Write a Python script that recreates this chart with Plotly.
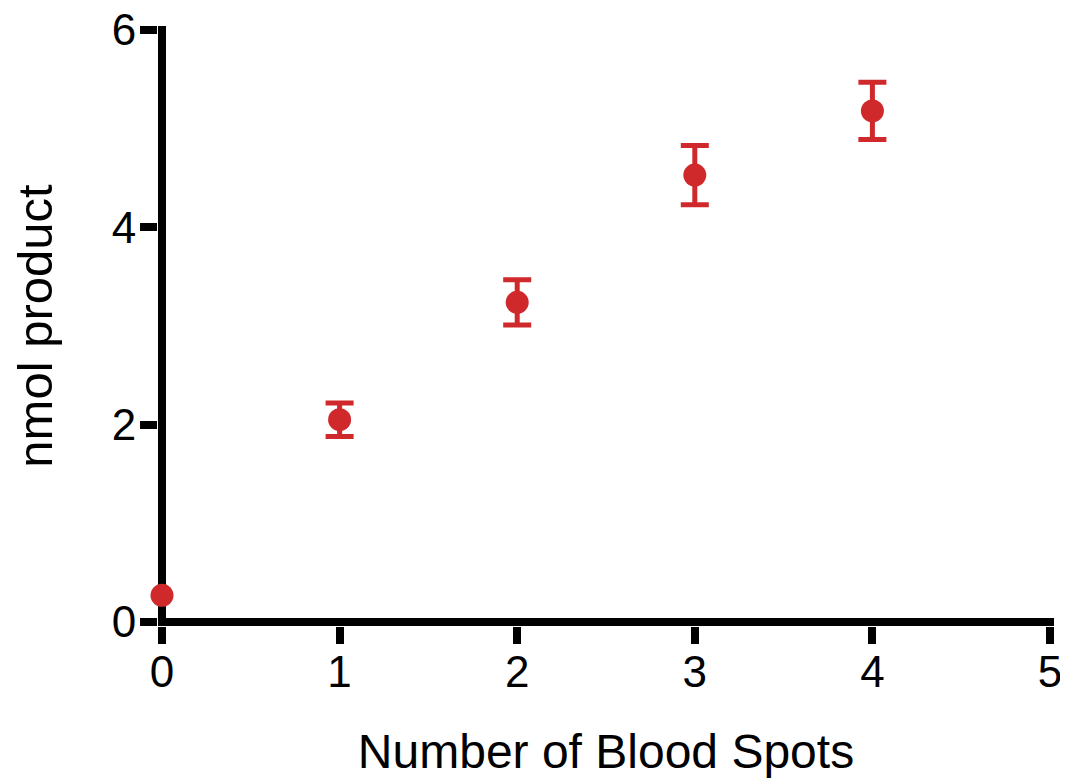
import plotly.graph_objects as go

spots = [0, 1, 2, 3, 4]
nmol = [0.27, 2.05, 3.24, 4.53, 5.18]
err = [None, 0.17, 0.23, 0.30, 0.29]
x_ticks = [0, 1, 2, 3, 4, 5]
y_ticks = [0, 2, 4, 6]

red = "#D0292B"

with_err = [i for i, e in enumerate(err) if e is not None]
no_err = [i for i, e in enumerate(err) if e is None]

fig = go.Figure()
fig.add_trace(go.Scatter(
    x=[spots[i] for i in no_err], y=[nmol[i] for i in no_err], mode="markers",
    marker=dict(color=red, size=23),
    cliponaxis=False, showlegend=False,
))
fig.add_trace(go.Scatter(
    x=[spots[i] for i in with_err], y=[nmol[i] for i in with_err], mode="markers",
    marker=dict(color=red, size=23),
    error_y=dict(type="data", array=[err[i] for i in with_err], visible=True,
                 color=red, thickness=5, width=14),
    cliponaxis=False, showlegend=False,
))

font = "Liberation Sans, Arial, sans-serif"
axis_common = dict(
    showgrid=False, showline=False, automargin=False,
    zeroline=True, zerolinecolor="black", zerolinewidth=8,
    ticks="outside", ticklen=17, tickwidth=8, tickcolor="black",
    ticklabeloverflow="allow", tickfont=dict(size=44),
)
fig.update_layout(
    width=1060, height=770,
    margin=dict(l=150, r=14, t=18, b=152),
    plot_bgcolor="white", paper_bgcolor="white",
    font=dict(family=font, size=44, color="black"),
    xaxis=dict(
        range=[-0.0225, 5.0225], tickvals=x_ticks, ticklabelstandoff=-10,
        title=dict(text="Number of Blood Spots", font=dict(size=48), standoff=42),
        **axis_common,
    ),
    yaxis=dict(
        range=[-0.0405, 6.0405], tickvals=y_ticks, ticklabelstandoff=-5,
        title=dict(text="nmol product", font=dict(size=49), standoff=53),
        **axis_common,
    ),
)

fig.write_html("out.html")
